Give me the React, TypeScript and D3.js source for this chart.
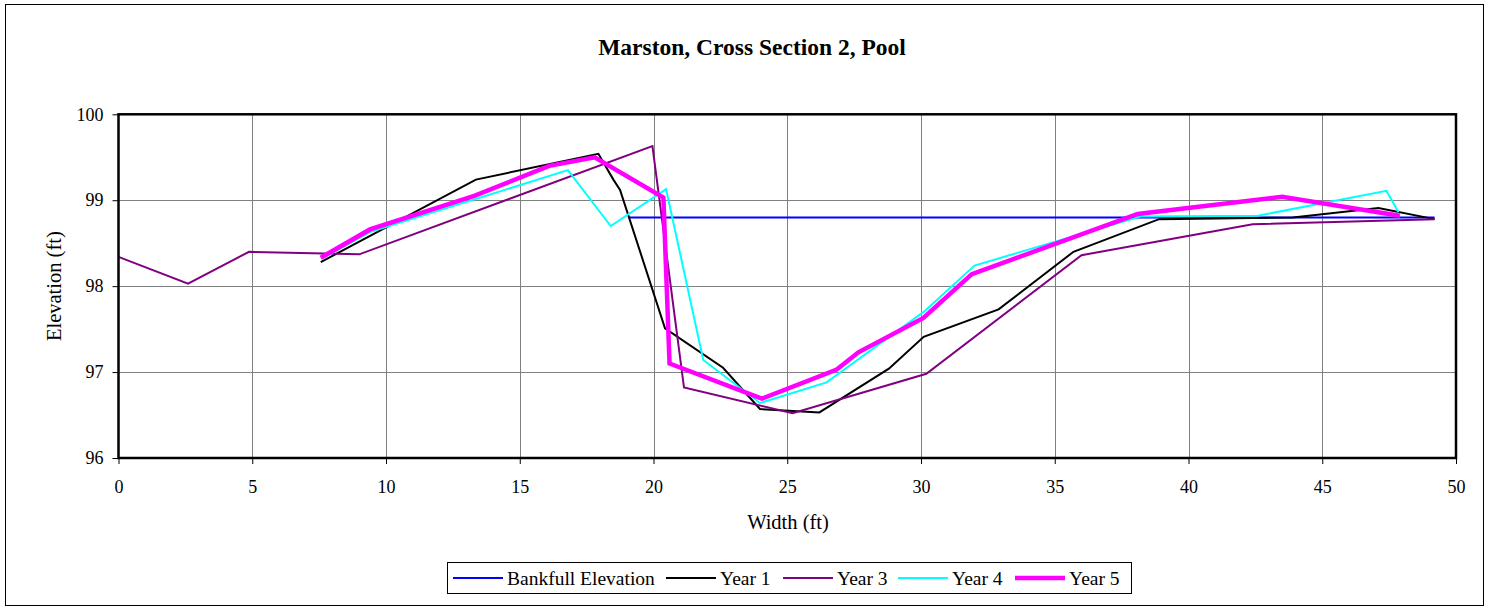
import React, { useRef, useEffect } from 'react';
import * as d3 from 'd3';

// widths (ft) and elevations (ft)
const bankfullX = [19.1, 49.2];
const bankfullY = [98.8, 98.8];

const year1X = [7.56, 13.36, 17.94, 18.5, 18.75, 20.43, 22.6, 23.98, 26.2, 28.8, 30.1, 32.9, 35.7, 38.9, 43.9, 47.1, 49.2];
const year1Y = [98.28, 99.24, 99.54, 99.24, 99.12, 97.51, 97.05, 96.57, 96.53, 97.04, 97.41, 97.73, 98.4, 98.78, 98.8, 98.91, 98.78];

const year3X = [0, 2.6, 4.88, 9.0, 19.96, 21.14, 25.2, 30.2, 36.0, 42.4, 49.2];
const year3Y = [98.34, 98.03, 98.4, 98.37, 99.63, 96.82, 96.52, 96.98, 98.36, 98.72, 98.78];

const year4X = [7.6, 9.4, 16.8, 18.4, 20.47, 21.86, 23.98, 26.47, 30.1, 32.0, 38.2, 42.6, 47.4, 47.85];
const year4Y = [98.32, 98.63, 99.35, 98.7, 99.13, 97.14, 96.64, 96.88, 97.7, 98.24, 98.81, 98.82, 99.11, 98.86];

const year5X = [7.56, 9.4, 13.3, 16.1, 17.8, 20.37, 20.6, 24.05, 26.85, 27.66, 30.09, 31.9, 38.1, 43.5, 47.9];
const year5Y = [98.33, 98.66, 99.05, 99.4, 99.5, 99.03, 97.1, 96.69, 97.03, 97.23, 97.63, 98.14, 98.84, 99.04, 98.82];

const xTicks = [0, 5, 10, 15, 20, 25, 30, 35, 40, 45, 50];
const yTicks = [96, 97, 98, 99, 100];

const seriesNames = ['Bankfull Elevation', 'Year 1', 'Year 3', 'Year 4', 'Year 5'];
const seriesColors = ['#0000ff', '#000000', '#800080', '#00ffff', '#ff00ff'];
const seriesWidths = [2, 2, 2, 2, 4.5];

const App = () => {
  const ref = useRef<SVGSVGElement>(null);

  useEffect(() => {
    document.body.style.margin = '0';
    const svg = d3.select(ref.current);
    svg.selectAll('*').remove();

    const font = '"Liberation Serif", "Times New Roman", serif';
    const left = 118.5, right = 1456, top = 114.3, bottom = 458;

    const x = d3.scaleLinear().domain([0, 50]).range([left, right]);
    const y = d3.scaleLinear().domain([96, 100]).range([bottom, top]);

    // outer chart border
    svg.append('rect')
      .attr('x', 5.5).attr('y', 4.5)
      .attr('width', 1478).attr('height', 601)
      .attr('fill', '#fff').attr('stroke', '#000').attr('stroke-width', 1);

    // title
    svg.append('text')
      .attr('x', 752).attr('y', 55)
      .attr('text-anchor', 'middle')
      .attr('font-family', font).attr('font-weight', 'bold').attr('font-size', 23.5)
      .text('Marston, Cross Section 2, Pool');

    // gridlines
    const grid = svg.append('g').attr('stroke', '#808080').attr('stroke-width', 1);
    xTicks.slice(1, -1).forEach((t) => {
      grid.append('line')
        .attr('x1', Math.round(x(t)) + 0.5).attr('x2', Math.round(x(t)) + 0.5)
        .attr('y1', top).attr('y2', bottom);
    });
    yTicks.slice(1, -1).forEach((t) => {
      grid.append('line')
        .attr('x1', left).attr('x2', right)
        .attr('y1', Math.round(y(t)) + 0.5).attr('y2', Math.round(y(t)) + 0.5);
    });

    // axes
    const xAxis = svg.append('g')
      .attr('transform', `translate(0,${bottom})`)
      .call(d3.axisBottom(x).tickValues(xTicks).tickSize(6).tickPadding(16).tickFormat(d3.format('d')));
    const yAxis = svg.append('g')
      .attr('transform', `translate(${left},0)`)
      .call(d3.axisLeft(y).tickValues(yTicks).tickSize(6).tickPadding(9).tickFormat(d3.format('d')));
    [xAxis, yAxis].forEach((a) => {
      a.select('.domain').remove();
      a.selectAll('line').attr('stroke', '#000');
      a.selectAll('text').attr('font-family', font).attr('font-size', 18).attr('fill', '#000');
    });

    // series
    const line = d3.line<[number, number]>().x((d) => x(d[0])).y((d) => y(d[1]));
    const allX = [bankfullX, year1X, year3X, year4X, year5X];
    const allY = [bankfullY, year1Y, year3Y, year4Y, year5Y];
    allX.forEach((xs, i) => {
      const pts = xs.map((v, j) => [v, allY[i][j]] as [number, number]);
      svg.append('path')
        .datum(pts)
        .attr('d', line)
        .attr('fill', 'none')
        .attr('stroke', seriesColors[i])
        .attr('stroke-width', seriesWidths[i])
        .attr('stroke-linejoin', 'miter');
    });

    // plot frame
    svg.append('rect')
      .attr('x', left).attr('y', top)
      .attr('width', right - left).attr('height', bottom - top)
      .attr('fill', 'none').attr('stroke', '#000').attr('stroke-width', 2.5);

    // axis titles
    svg.append('text')
      .attr('x', 788).attr('y', 529)
      .attr('text-anchor', 'middle')
      .attr('font-family', font).attr('font-size', 20.5)
      .text('Width (ft)');
    svg.append('text')
      .attr('transform', `translate(61,${(top + bottom) / 2}) rotate(-90)`)
      .attr('text-anchor', 'middle')
      .attr('font-family', font).attr('font-size', 20.5)
      .text('Elevation (ft)');

    // legend
    const legend = svg.append('g');
    legend.append('rect')
      .attr('x', 447.5).attr('y', 562.5).attr('width', 684).attr('height', 31)
      .attr('fill', '#fff').attr('stroke', '#000').attr('stroke-width', 1);
    const itemX = [453, 666, 783, 898, 1015];
    seriesNames.forEach((name, i) => {
      legend.append('line')
        .attr('x1', itemX[i]).attr('x2', itemX[i] + 50)
        .attr('y1', 578).attr('y2', 578)
        .attr('stroke', seriesColors[i]).attr('stroke-width', seriesWidths[i]);
      legend.append('text')
        .attr('x', itemX[i] + 54).attr('y', 585)
        .attr('font-family', font).attr('font-size', 19.5)
        .text(name);
    });
  }, []);

  return <svg ref={ref} width={1490} height={610} style={{ display: 'block' }} />;
};

export default App;
